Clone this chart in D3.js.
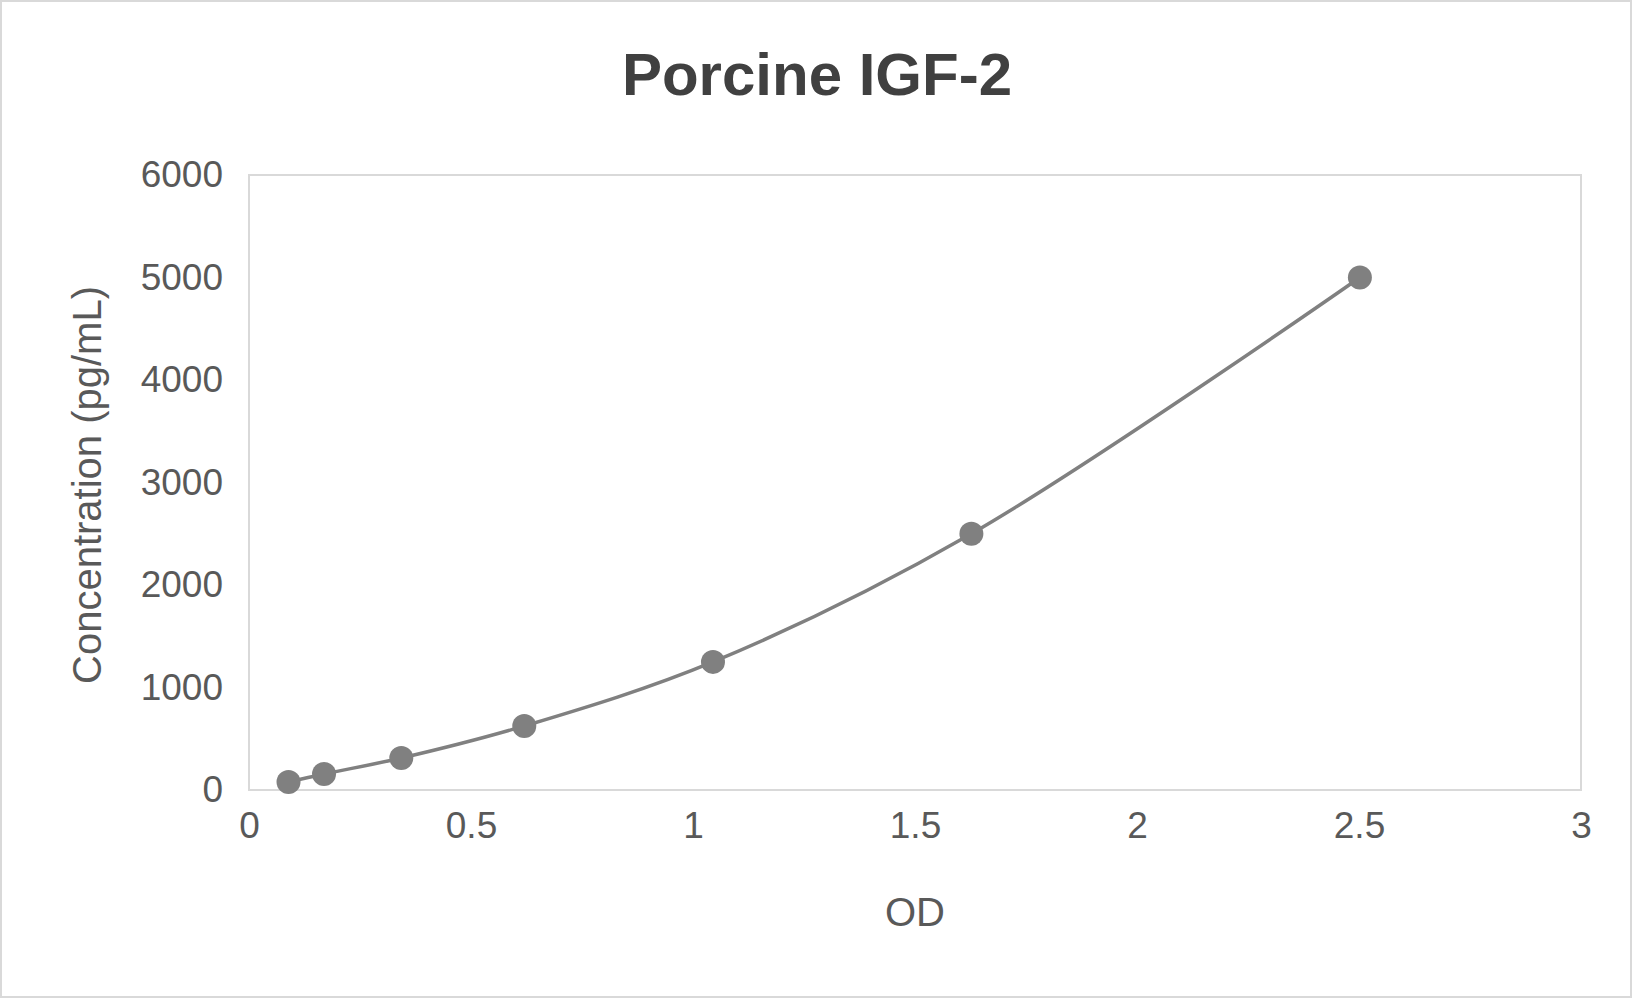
<!DOCTYPE html>
<html><head><meta charset="utf-8">
<script src="https://cdn.jsdelivr.net/npm/d3@7"></script>
<style>body{margin:0;background:#fff}svg{display:block}</style>
</head><body>
<svg id="chart" width="1633" height="999"></svg>
<script>
var odValues = [0.089, 0.169, 0.343, 0.62, 1.045, 1.627, 2.502];
var concValues = [78, 156, 312, 625, 1250, 2500, 5000];
var xTicks = [0, 0.5, 1, 1.5, 2, 2.5, 3];
var yTicks = [0, 1000, 2000, 3000, 4000, 5000, 6000];

var svg = d3.select("#chart"),
	font = "'Liberation Sans', Arial, sans-serif",
	grey = "#595959";

svg.append("rect").attr("x", 1).attr("y", 1).attr("width", 1630).attr("height", 996)
	.attr("fill", "#fff").attr("stroke", "#d9d9d9").attr("stroke-width", 2);

var x = d3.scaleLinear().domain([0, 3]).range([249, 1581]),
	y = d3.scaleLinear().domain([0, 6000]).range([790, 175]);

// plot frame
svg.append("rect").attr("x", x(0)).attr("y", y(6000))
	.attr("width", x(3) - x(0)).attr("height", y(0) - y(6000))
	.attr("fill", "none").attr("stroke", "#d9d9d9").attr("stroke-width", 2);

svg.append("g").attr("transform", "translate(0," + y(0) + ")")
	.call(d3.axisBottom(x).tickValues(xTicks).tickFormat(d3.format("")).tickSize(0).tickPadding(22))
	.call(function(g) { g.select(".domain").remove(); })
	.selectAll("text").attr("font-family", font).attr("font-size", 37).attr("fill", grey);

svg.append("g").attr("transform", "translate(" + x(0) + ",0)")
	.call(d3.axisLeft(y).tickValues(yTicks).tickFormat(d3.format("")).tickSize(0).tickPadding(26))
	.call(function(g) { g.select(".domain").remove(); })
	.selectAll("text").attr("font-family", font).attr("font-size", 37).attr("fill", grey);

var pts = odValues.map(function(d, i) { return [d, concValues[i]]; });

svg.append("path").datum(pts)
	.attr("d", d3.line().x(function(d) { return x(d[0]); }).y(function(d) { return y(d[1]); }).curve(d3.curveCatmullRom))
	.attr("fill", "none").attr("stroke", "#808080").attr("stroke-width", 3.5);

svg.selectAll("circle.pt").data(pts).enter().append("circle")
	.attr("cx", function(d) { return x(d[0]); })
	.attr("cy", function(d) { return y(d[1]); })
	.attr("r", 12).attr("fill", "#808080");

svg.append("text").attr("x", 817).attr("y", 95).attr("text-anchor", "middle")
	.attr("font-family", font).attr("font-weight", "bold").attr("font-size", 60)
	.attr("fill", "#404040").text("Porcine IGF-2");

svg.append("text").attr("x", 915).attr("y", 926).attr("text-anchor", "middle")
	.attr("font-family", font).attr("font-size", 40).attr("fill", grey).text("OD");

svg.append("text").attr("transform", "translate(101,485) rotate(-90)").attr("text-anchor", "middle")
	.attr("font-family", font).attr("font-size", 40).attr("fill", grey).text("Concentration (pg/mL)");
</script>
</body></html>
